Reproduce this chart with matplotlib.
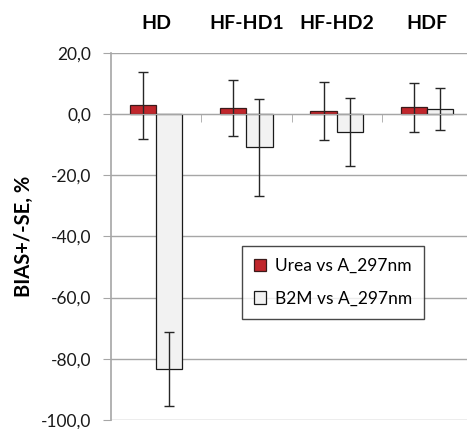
import numpy as np
import matplotlib
matplotlib.use('agg')
import matplotlib.pyplot as plt
from matplotlib.ticker import FixedLocator, FuncFormatter

plt.rcParams['font.family'] = ['Lato', 'DejaVu Sans']

# data
categories = ['HD', 'HF-HD1', 'HF-HD2', 'HDF']
urea_vals = [2.8, 1.9, 1.0, 2.2]
urea_err = [11.0, 9.1, 9.5, 8.0]
b2m_vals = [-83.2, -10.9, -5.9, 1.5]
b2m_err = [12.1, 15.9, 11.1, 6.9]
series_names = ['Urea vs A_297nm', 'B2M vs A_297nm']
y_ticks = [20, 0, -20, -40, -60, -80, -100]

grid_col = '#a6a6a6'
width = 0.29
x = np.arange(len(categories))

fig = plt.figure(figsize=(4.67, 4.29), dpi=100)
ax = fig.add_axes([0.2377, 0.021, 0.773, 0.856])

ax.set_axisbelow(True)
for yt in y_ticks:
    ax.axhline(yt, color=grid_col, linewidth=1.0, zorder=0)

err_kw = dict(ecolor='#262626', elinewidth=1.0, capsize=3.5, capthick=1.0)
ax.bar(x - width / 2, urea_vals, width, color='#c0262c', edgecolor='#3a1a1a',
       linewidth=0.9, yerr=urea_err, error_kw=err_kw, label=series_names[0], zorder=2)
ax.bar(x + width / 2, b2m_vals, width, color='#f2f2f2', edgecolor='#1a1a1a',
       linewidth=0.9, yerr=b2m_err, error_kw=err_kw, label=series_names[1], zorder=2)

ax.set_xlim(-0.5, len(categories) - 0.5)
ax.set_ylim(-100, 20)
ax.yaxis.set_major_locator(FixedLocator(y_ticks))
ax.yaxis.set_major_formatter(FuncFormatter(lambda v, p: f'{v:.1f}'.replace('.', ',')))
ax.tick_params(axis='y', length=6, color=grid_col, labelsize=12.5, pad=8, labelcolor='#1a1a1a')

# x axis drawn at zero with ticks at category boundaries
ax.spines['bottom'].set_position(('data', 0))
ax.spines['bottom'].set_color(grid_col)
ax.spines['bottom'].set_zorder(3)
ax.set_xticks([])
ax.set_xticks(np.arange(0.5, len(categories) - 0.5, 1.0), minor=True)
ax.tick_params(axis='x', which='minor', length=6, color=grid_col, direction='out', labelbottom=False)
ax.spines['left'].set_color(grid_col)
ax.spines['left'].set_linewidth(1.2)
ax.spines['top'].set_visible(False)
ax.spines['right'].set_visible(False)

for i, c in enumerate(categories):
    ax.text(i, 29.7, c, ha='center', va='center', fontsize=14, fontweight='bold', clip_on=False)

ax.set_ylabel('BIAS+/-SE, %', fontsize=14.5, fontweight='bold', labelpad=5)

leg = ax.legend(loc='upper left', bbox_to_anchor=(0.363, 0.474), fontsize=12.5,
                frameon=True, fancybox=False, edgecolor='#1a1a1a', handlelength=0.7,
                handleheight=0.7, handletextpad=0.5, labelspacing=0.95, borderpad=0.7,
                borderaxespad=0)
leg.get_frame().set_linewidth(1.0)
leg.set_zorder(5)

fig.savefig('out.png', dpi=100)
